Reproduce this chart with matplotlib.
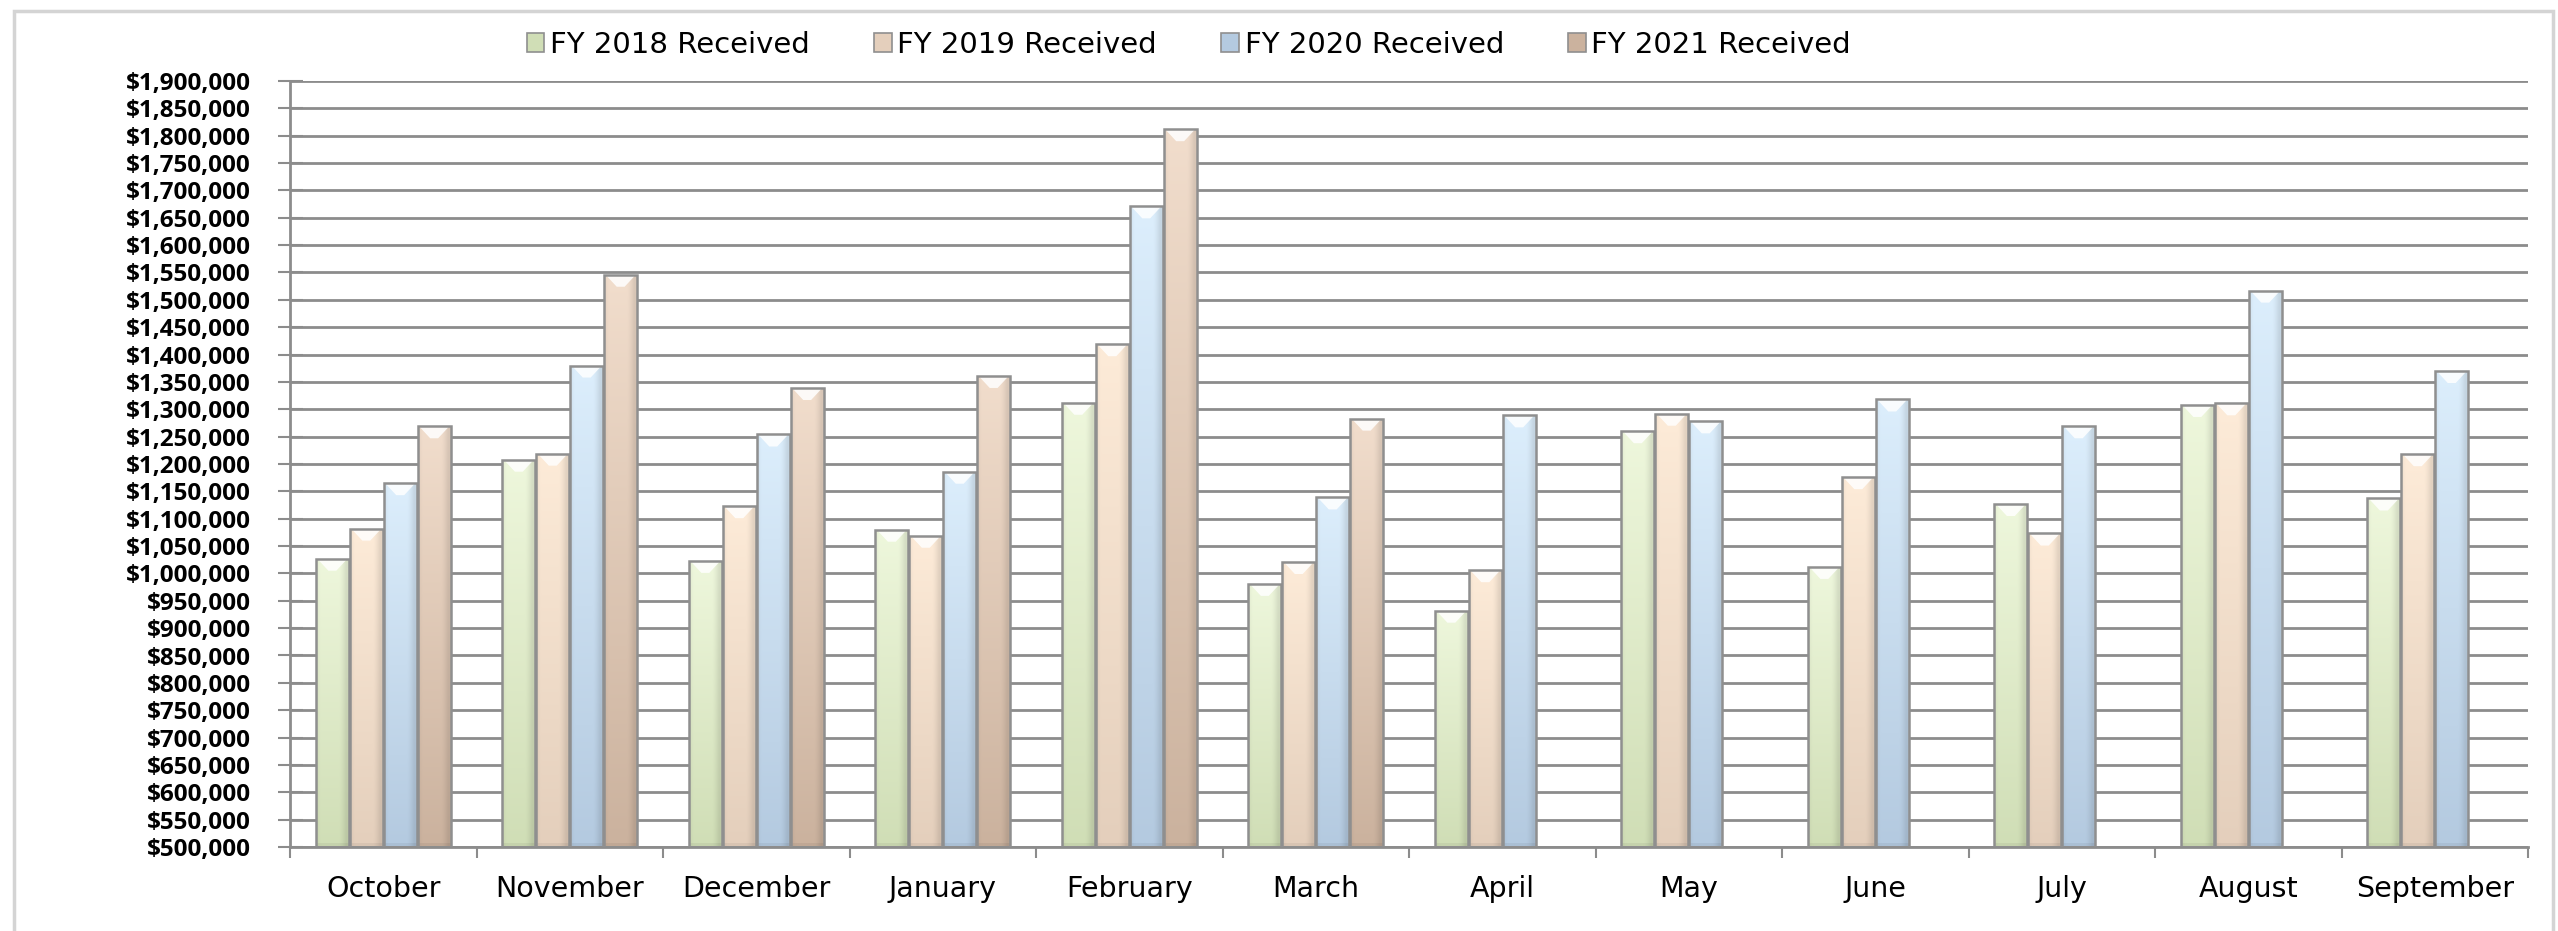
import numpy as np
import matplotlib
matplotlib.use("Agg")
import matplotlib.pyplot as plt
from matplotlib.patches import Rectangle, Polygon
from matplotlib.ticker import FuncFormatter, MultipleLocator, FixedLocator
from matplotlib.colors import to_rgb

# Datos (dólares recibidos por mes)
months = ["October", "November", "December", "January", "February", "March",
          "April", "May", "June", "July", "August", "September"]
series_names = ["FY 2018 Received", "FY 2019 Received", "FY 2020 Received", "FY 2021 Received"]

fy2018 = [1027000, 1208000, 1023000, 1080000, 1312000, 981000,
          932000, 1260000, 1012000, 1127000, 1308000, 1137000]
fy2019 = [1082000, 1219000, 1123000, 1069000, 1419000, 1021000,
          1006000, 1292000, 1176000, 1073000, 1311000, 1218000]
fy2020 = [1165000, 1380000, 1254000, 1186000, 1671000, 1139000,
          1289000, 1278000, 1318000, 1269000, 1517000, 1370000]
fy2021 = [1269000, 1546000, 1339000, 1361000, 1812000, 1283000,
          np.nan, np.nan, np.nan, np.nan, np.nan, np.nan]

# colores (arriba, abajo) de cada serie
top_colors = ["#EEF7DC", "#FDEBD8", "#DCEEFC", "#F1DDCC"]
bottom_colors = ["#D0DEB6", "#E4CFBC", "#B4CAE0", "#CBB29E"]

y_min, y_max = 500000, 1900000
bar_w = 0.182

fig = plt.figure(figsize=(25.58, 9.31), dpi=100)
ax = fig.add_axes([290 / 2558, 1 - 847 / 931, (2528 - 290) / 2558, (847 - 81) / 931])

# marco gris claro del gráfico
fig.patches.append(Rectangle((14 / 2558, -0.02), (2553 - 14) / 2558, 1.02 - 11 / 931,
                             transform=fig.transFigure, fill=False,
                             edgecolor="#d4d4d4", linewidth=2.5, zorder=0))


def gradient_image(c_top, c_bot):
    t = np.array(to_rgb(c_top))
    b = np.array(to_rgb(c_bot))
    ny, nx = 64, 32
    fy = np.linspace(0, 1, ny)[:, None, None]
    img = t * (1 - fy) + b * fy
    # sombra en los bordes laterales (efecto bisel)
    xx = np.linspace(-1, 1, nx)
    shade = 1 - 0.10 * np.clip((np.abs(xx + 0.15) - 0.55) / 0.45, 0, 1) ** 1.5
    img = img * shade[None, :, None]
    return np.clip(img, 0, 1)


x = np.arange(len(months))
all_series = [fy2018, fy2019, fy2020, fy2021]
bevel = 22000

for i, vals in enumerate(all_series):
    offs = (i - 1.5) * bar_w
    bars = ax.bar(x + offs, np.array(vals) - y_min, bar_w * 0.97, bottom=y_min,
                  facecolor="none", edgecolor="#8f8f8f", linewidth=1.8, zorder=3,
                  label=series_names[i])
    img = gradient_image(top_colors[i], bottom_colors[i])
    for p in bars:
        h = p.get_height()
        if not np.isfinite(h):
            continue
        x0, w = p.get_x(), p.get_width()
        y1 = p.get_y() + h
        im = ax.imshow(img, extent=[x0, x0 + w, p.get_y(), y1], aspect="auto",
                       interpolation="bilinear", zorder=2)
        im.set_clip_path(p)
        # reflejo blanco del bisel superior
        ax.add_patch(Polygon([(x0 + w * 0.04, y1), (x0 + w * 0.96, y1),
                              (x0 + w * 0.62, y1 - bevel), (x0 + w * 0.38, y1 - bevel)],
                             closed=True, facecolor="white", edgecolor="none",
                             alpha=0.85, zorder=2.5))
        # sombra inferior
        ax.add_patch(Rectangle((x0, p.get_y()), w, 8000, facecolor="#000000",
                               alpha=0.05, edgecolor="none", zorder=2.6))

ax.set_xlim(-0.5, len(months) - 0.5)
ax.set_ylim(y_min, y_max)

ax.yaxis.set_major_locator(MultipleLocator(50000))
ax.yaxis.set_major_formatter(FuncFormatter(lambda v, pos: f"${v:,.0f}"))
ax.grid(axis="y", color="#8c8c8c", linewidth=2.0, zorder=1)
ax.set_axisbelow(True)

ax.set_xticks(x)
ax.set_xticklabels(months, fontsize=20.5)
ax.xaxis.set_minor_locator(FixedLocator(np.arange(-0.5, len(months), 1.0)))
ax.tick_params(axis="x", which="major", length=0, pad=20)
ax.tick_params(axis="x", which="minor", length=8, width=1.5, color="#8c8c8c", direction="out")
ax.tick_params(axis="y", which="major", length=18, width=1.5, color="#8c8c8c",
               direction="inout", pad=19)
for lab in ax.get_yticklabels():
    lab.set_fontfamily("Open Sans")
    lab.set_fontweight("bold")
    lab.set_fontsize(17.5)

for side in ["top", "right"]:
    ax.spines[side].set_visible(False)
for side in ["left", "bottom"]:
    ax.spines[side].set_color("#8c8c8c")
    ax.spines[side].set_linewidth(2.0)

# leyenda con cuadritos pequeños
handles = [Rectangle((0, 0), 1, 1, facecolor=bottom_colors[i], edgecolor="#8f8f8f", linewidth=1.2)
           for i in range(4)]
fig.legend(handles, series_names, loc="center", bbox_to_anchor=(1189 / 2558, 1 - 45 / 931),
           ncol=4, frameon=False, fontsize=21, handlelength=0.6, handleheight=0.6,
           handletextpad=0.2, columnspacing=2.2, borderaxespad=0)

fig.savefig("out.png", dpi=100, facecolor="white")
